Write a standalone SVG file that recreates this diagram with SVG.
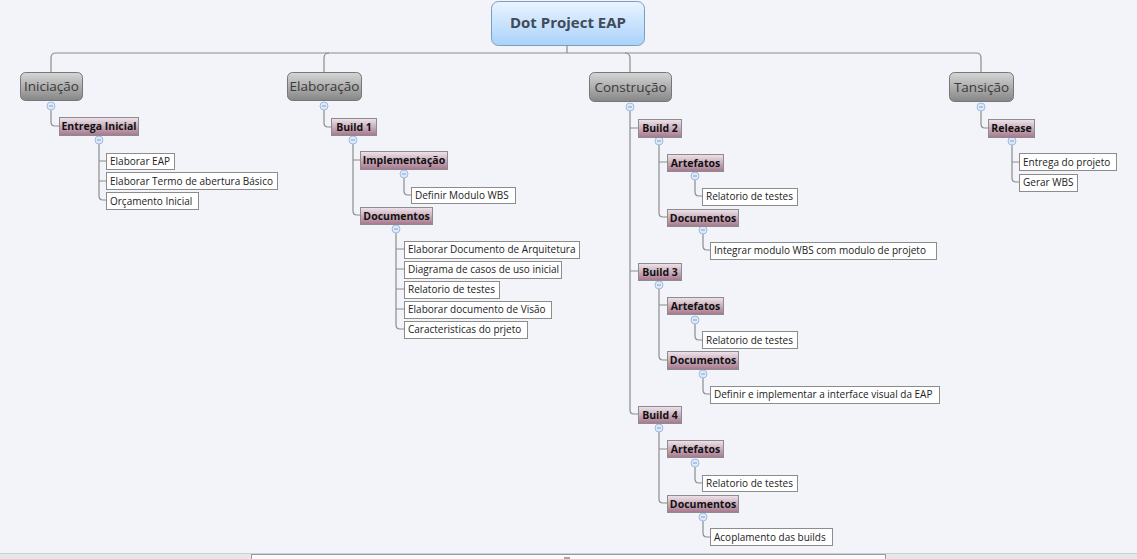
<svg xmlns="http://www.w3.org/2000/svg" width="1137" height="559" viewBox="0 0 1137 559">
<defs>
<linearGradient id="gRoot" x1="0" y1="0" x2="0" y2="1"><stop offset="0" stop-color="#eaf4ff"/><stop offset="1" stop-color="#a9d2fb"/></linearGradient>
<linearGradient id="gMain" x1="0" y1="0" x2="0" y2="1"><stop offset="0" stop-color="#d6d6d6"/><stop offset="1" stop-color="#868686"/></linearGradient>
<linearGradient id="gSub" x1="0" y1="0" x2="0" y2="1"><stop offset="0" stop-color="#eee4ea"/><stop offset="1" stop-color="#a6768d"/></linearGradient>
<style>
.c{fill:none;stroke:#8c8c8c;stroke-width:1.2}
.root{fill:url(#gRoot);stroke:#7f9cbd;stroke-width:1}
.main{fill:url(#gMain);stroke:#777;stroke-width:1}
.sub{fill:url(#gSub);stroke:#8c8c8c;stroke-width:1}
.leaf{fill:#fff;stroke:#8c8c8c;stroke-width:1}
.tr{font-family:"Open Sans","Liberation Sans",sans-serif;font-weight:bold;font-size:15px;fill:#414a58;text-anchor:middle}
.tm{font-family:"Open Sans","Liberation Sans",sans-serif;font-size:13.5px;fill:#3a3a3a;text-anchor:middle}
.ts{font-family:"Open Sans","Liberation Sans",sans-serif;font-weight:bold;font-size:10.5px;fill:#111;text-anchor:middle}
.tl{font-family:"Open Sans","Liberation Sans",sans-serif;font-size:10px;fill:#222}
.k circle{fill:#dfe9f8;stroke:#9fbbe2;stroke-width:1}
.k path{stroke:#7e9fd4;stroke-width:1}
</style>
</defs>
<rect x="0" y="0" width="1137" height="559" fill="#f3f4f9"/>
<g id="connectors">
<path class="c" d="M567,45 V53"/>
<path class="c" d="M51,72 V58 Q51,53 56,53 H976 Q981,53 981,58 V72"/>
<path class="c" d="M324,72 V58 Q324,53 329,53"/>
<path class="c" d="M630,72 V58 Q630,53 625,53"/>
<!-- Iniciação -->
<path class="c" d="M51,110 V122 Q51,126 55,126 H59"/>
<path class="c" d="M99,144 V196 Q99,200 103,200 H106 M99,161 H106 M99,181 H106"/>
<!-- Elaboração -->
<path class="c" d="M324,110 V123 Q324,127 328,127 H331"/>
<path class="c" d="M353,144 V211 Q353,215 357,215 H360 M353,160 H360"/>
<path class="c" d="M404,178 V191 Q404,195 408,195 H411"/>
<path class="c" d="M396,233 V325 Q396,329 400,329 H404 M396,249 H404 M396,269 H404 M396,289 H404 M396,309 H404"/>
<!-- Construção -->
<path class="c" d="M630,111 V410 Q630,414 634,414 H638 M630,128 H638 M630,271 H638"/>
<path class="c" d="M659,145 V213 Q659,217 663,217 H667 M659,162 H667"/>
<path class="c" d="M695,180 V192 Q695,196 699,196 H702"/>
<path class="c" d="M703,234 V246 Q703,250 707,250 H710"/>
<path class="c" d="M659,289 V356 Q659,360 663,360 H667 M659,305 H667"/>
<path class="c" d="M695,324 V336 Q695,340 699,340 H702"/>
<path class="c" d="M703,378 V390 Q703,394 707,394 H710"/>
<path class="c" d="M659,432 V499 Q659,503 663,503 H667 M659,449 H667"/>
<path class="c" d="M695,467 V479 Q695,483 699,483 H702"/>
<path class="c" d="M703,521 V533 Q703,537 707,537 H710"/>
<!-- Tansição -->
<path class="c" d="M981,111 V124 Q981,128 985,128 H988"/>
<path class="c" d="M1012,145 V178 Q1012,182 1016,182 H1019 M1012,162 H1019"/>
</g>
<g id="collapse" class="k">
<circle cx="51" cy="106" r="4"/><path d="M49,106 H53"/>
<circle cx="99" cy="140" r="4"/><path d="M97,140 H101"/>
<circle cx="324" cy="106" r="4"/><path d="M322,106 H326"/>
<circle cx="353" cy="140" r="4"/><path d="M351,140 H355"/>
<circle cx="404" cy="174" r="4"/><path d="M402,174 H406"/>
<circle cx="396" cy="229" r="4"/><path d="M394,229 H398"/>
<circle cx="630" cy="107" r="4"/><path d="M628,107 H632"/>
<circle cx="659" cy="141" r="4"/><path d="M657,141 H661"/>
<circle cx="695" cy="176" r="4"/><path d="M693,176 H697"/>
<circle cx="703" cy="230" r="4"/><path d="M701,230 H705"/>
<circle cx="659" cy="285" r="4"/><path d="M657,285 H661"/>
<circle cx="695" cy="320" r="4"/><path d="M693,320 H697"/>
<circle cx="703" cy="374" r="4"/><path d="M701,374 H705"/>
<circle cx="659" cy="428" r="4"/><path d="M657,428 H661"/>
<circle cx="695" cy="463" r="4"/><path d="M693,463 H697"/>
<circle cx="703" cy="517" r="4"/><path d="M701,517 H705"/>
<circle cx="981" cy="107" r="4"/><path d="M979,107 H983"/>
<circle cx="1012" cy="141" r="4"/><path d="M1010,141 H1014"/>
</g>
<g id="root"><rect class="root" x="491.5" y="1.5" width="153" height="44" rx="7"/><text class="tr" x="568" y="28">Dot Project EAP</text></g>
<g id="iniciacao"><rect class="main" x="20.5" y="72.5" width="62" height="28" rx="5"/><text class="tm" x="51.5" y="91">Iniciação</text></g>
<g id="elaboracao"><rect class="main" x="287.5" y="72.5" width="74" height="28" rx="5"/><text class="tm" x="324.5" y="91">Elaboração</text></g>
<g id="construcao"><rect class="main" x="589.5" y="72.5" width="82" height="29" rx="5"/><text class="tm" x="630.5" y="91.5">Construção</text></g>
<g id="tansicao"><rect class="main" x="949.5" y="72.5" width="64" height="29" rx="5"/><text class="tm" x="981.5" y="91.5">Tansição</text></g>

<g id="entrega-inicial"><rect class="sub" x="59.5" y="117.5" width="79" height="18"/><text class="ts" x="99" y="130">Entrega Inicial</text></g>
<g id="leaf-elaborar-eap"><rect class="leaf" x="106.5" y="153.5" width="68" height="16"/><text class="tl" x="110" y="165">Elaborar EAP</text></g>
<g id="leaf-termo"><rect class="leaf" x="106.5" y="172.5" width="171" height="17"/><text class="tl" x="110" y="185">Elaborar Termo de abertura Básico</text></g>
<g id="leaf-orcamento"><rect class="leaf" x="106.5" y="192.5" width="92" height="17"/><text class="tl" x="110" y="205">Orçamento Inicial</text></g>

<g id="build1"><rect class="sub" x="331.5" y="118.5" width="45" height="17"/><text class="ts" x="354" y="131">Build 1</text></g>
<g id="implementacao"><rect class="sub" x="360.5" y="151.5" width="87" height="18"/><text class="ts" x="404" y="164">Implementação</text></g>
<g id="leaf-definir-wbs"><rect class="leaf" x="411.5" y="187.5" width="104" height="16"/><text class="tl" x="415" y="199">Definir Modulo WBS</text></g>
<g id="documentos1"><rect class="sub" x="360.5" y="207.5" width="72" height="17"/><text class="ts" x="396.5" y="220">Documentos</text></g>
<g id="leaf-arquitetura"><rect class="leaf" x="404.5" y="241.5" width="175" height="17"/><text class="tl" x="408" y="253">Elaborar Documento de Arquitetura</text></g>
<g id="leaf-casos-uso"><rect class="leaf" x="404.5" y="261.5" width="157" height="17"/><text class="tl" x="408" y="273">Diagrama de casos de uso inicial</text></g>
<g id="leaf-relatorio1"><rect class="leaf" x="404.5" y="281.5" width="95" height="17"/><text class="tl" x="408" y="293">Relatorio de testes</text></g>
<g id="leaf-visao"><rect class="leaf" x="404.5" y="301.5" width="147" height="17"/><text class="tl" x="408" y="313">Elaborar documento de Visão</text></g>
<g id="leaf-caracteristicas"><rect class="leaf" x="404.5" y="321.5" width="123" height="17"/><text class="tl" x="408" y="333">Caracteristicas do prjeto</text></g>

<g id="build2"><rect class="sub" x="638.5" y="119.5" width="43" height="18"/><text class="ts" x="660" y="132">Build 2</text></g>
<g id="artefatos2"><rect class="sub" x="667.5" y="154.5" width="56" height="17"/><text class="ts" x="695.5" y="167">Artefatos</text></g>
<g id="leaf-relatorio2"><rect class="leaf" x="702.5" y="188.5" width="95" height="17"/><text class="tl" x="706" y="200">Relatorio de testes</text></g>
<g id="documentos2"><rect class="sub" x="667.5" y="209.5" width="71" height="17"/><text class="ts" x="703" y="222">Documentos</text></g>
<g id="leaf-integrar"><rect class="leaf" x="710.5" y="242.5" width="226" height="17"/><text class="tl" x="714" y="254">Integrar modulo WBS com modulo de projeto</text></g>

<g id="build3"><rect class="sub" x="638.5" y="263.5" width="43" height="17"/><text class="ts" x="660" y="276">Build 3</text></g>
<g id="artefatos3"><rect class="sub" x="667.5" y="297.5" width="56" height="17"/><text class="ts" x="695.5" y="310">Artefatos</text></g>
<g id="leaf-relatorio3"><rect class="leaf" x="702.5" y="331.5" width="95" height="17"/><text class="tl" x="706" y="344">Relatorio de testes</text></g>
<g id="documentos3"><rect class="sub" x="667.5" y="351.5" width="71" height="18"/><text class="ts" x="703" y="364">Documentos</text></g>
<g id="leaf-interface"><rect class="leaf" x="710.5" y="386.5" width="229" height="17"/><text class="tl" x="714" y="398">Definir e implementar a interface visual da EAP</text></g>

<g id="build4"><rect class="sub" x="638.5" y="406.5" width="43" height="17"/><text class="ts" x="660" y="419">Build 4</text></g>
<g id="artefatos4"><rect class="sub" x="667.5" y="440.5" width="56" height="17"/><text class="ts" x="695.5" y="453">Artefatos</text></g>
<g id="leaf-relatorio4"><rect class="leaf" x="702.5" y="475.5" width="95" height="16"/><text class="tl" x="706" y="487">Relatorio de testes</text></g>
<g id="documentos4"><rect class="sub" x="667.5" y="495.5" width="71" height="17"/><text class="ts" x="703" y="508">Documentos</text></g>
<g id="leaf-acoplamento"><rect class="leaf" x="710.5" y="528.5" width="122" height="17"/><text class="tl" x="714" y="541">Acoplamento das builds</text></g>

<g id="release"><rect class="sub" x="988.5" y="119.5" width="46" height="18"/><text class="ts" x="1011.5" y="132">Release</text></g>
<g id="leaf-entrega-projeto"><rect class="leaf" x="1019.5" y="153.5" width="97" height="17"/><text class="tl" x="1023" y="166">Entrega do projeto</text></g>
<g id="leaf-gerar-wbs"><rect class="leaf" x="1019.5" y="174.5" width="58" height="17"/><text class="tl" x="1023" y="186">Gerar WBS</text></g>

<g id="scrollbar">
<rect x="0" y="553" width="1137" height="6" fill="#e6e7eb"/>
<line x1="0" y1="553.5" x2="1137" y2="553.5" stroke="#d0d0d4"/>
<rect x="251.5" y="554.5" width="634" height="6" fill="#fbfbfb" stroke="#9a9a9a"/>
<path d="M565,557 V559 M567,557 V559 M569,557 V559" stroke="#555" stroke-width="1"/>
</g>
</svg>
